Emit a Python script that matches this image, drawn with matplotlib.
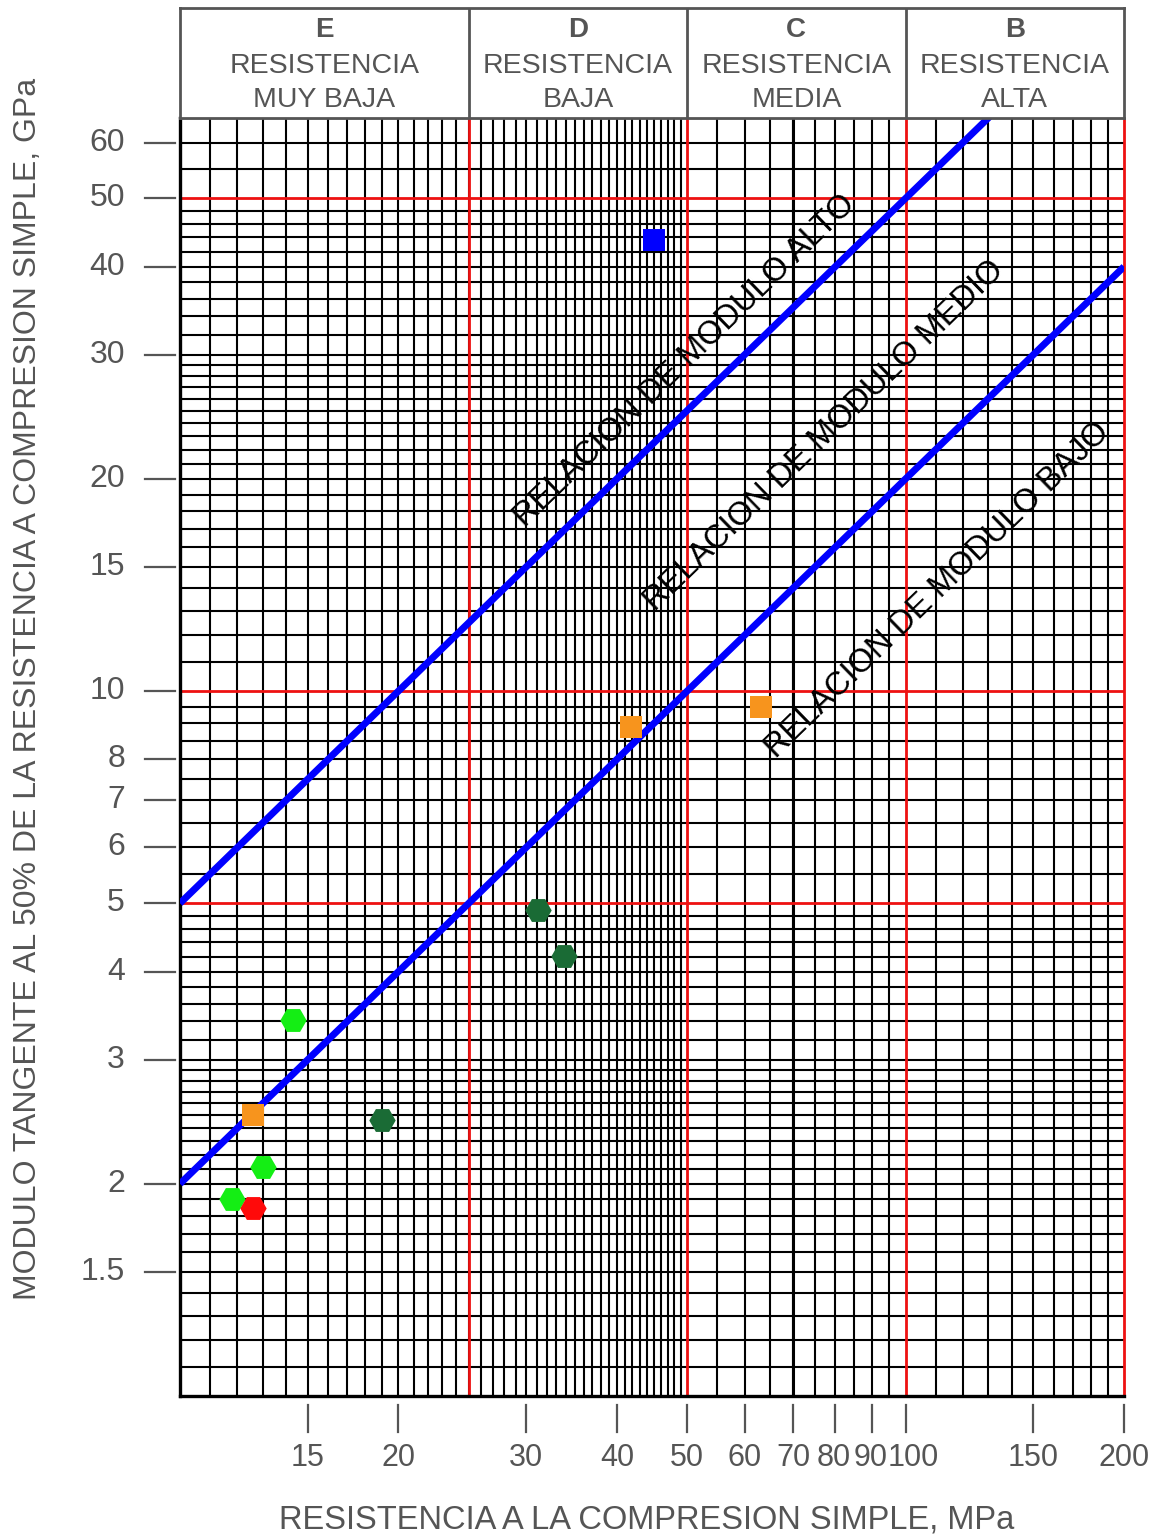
import math
import numpy as np
import matplotlib
matplotlib.use('Agg')
import matplotlib.pyplot as plt
from matplotlib.transforms import blended_transform_factory, offset_copy

plt.rcParams['font.family'] = ['Liberation Sans', 'DejaVu Sans']

# ---------------- data ----------------
blue_sq_x = [45.0]
blue_sq_y = [43.6]
orange_sq_x = [12.6, 41.8, 63.3]
orange_sq_y = [2.5, 8.9, 9.5]
lgreen_x = [11.8, 13.0, 14.3]
lgreen_y = [1.90, 2.11, 3.41]
red_x = [12.6]
red_y = [1.85]
dgreen_x = [19.0, 31.1, 33.8]
dgreen_y = [2.46, 4.89, 4.21]

ratio_lines = [500, 200]          # modulus ratio E / sigma_c
ratio_labels = ['RELACION DE MODULO ALTO', 'RELACION DE MODULO MEDIO',
                'RELACION DE MODULO BAJO']
label_x = [49.6, 77.3, 110.7]
label_y = [29.4, 23.0, 13.9]

categories = ['E', 'D', 'C', 'B']
cat_line1 = ['RESISTENCIA', 'RESISTENCIA', 'RESISTENCIA', 'RESISTENCIA']
cat_line2 = ['MUY BAJA', 'BAJA', 'MEDIA', 'ALTA']
cat_bounds = [10, 25, 50, 100, 200]

xticks = [15, 20, 30, 40, 50, 60, 70, 80, 90, 100, 150, 200]
yticks = [1.5, 2, 3, 4, 5, 6, 7, 8, 10, 15, 20, 30, 40, 50, 60]

xlim = (10, 200)
ylim = (1, 65)

# ---------------- figure ----------------
W, H = 1158, 1538
fig = plt.figure(figsize=(W / 100, H / 100), dpi=100)
L, R, T, B = 180, 1124, 118, 1396
ax = fig.add_axes([L / W, 1 - B / H, (R - L) / W, (B - T) / H])
ax.set_xscale('log')
ax.set_yscale('log')
ax.set_xlim(*xlim)
ax.set_ylim(*ylim)
ax.set_xticks([])
ax.set_yticks([])
ax.minorticks_off()

# grid
xgrid = np.concatenate([np.arange(11, 50, 1), np.arange(55, 100, 5), np.arange(110, 200, 10)])
ygrid = np.concatenate([np.arange(1.1, 2.95, 0.1), np.arange(3.0, 4.95, 0.2),
                        np.arange(5.5, 9.9, 0.5), np.arange(11, 30, 1),
                        np.arange(30, 49, 2), [55, 60, 65]])
gkw = dict(colors='black', lw=1.5, zorder=1)
vl = ax.vlines(xgrid, ylim[0], ylim[1], **gkw)
hl = ax.hlines(ygrid, xlim[0], xlim[1], **gkw)
vl.set_snap(True)
hl.set_snap(True)
ax.vlines([70], ylim[0], ylim[1], colors='black', lw=2.2, zorder=1)
ax.vlines([25, 50, 100, 200], ylim[0], ylim[1], colors='#EE1111', lw=2.0, zorder=2, clip_on=False)
ax.hlines([5, 10, 50], xlim[0], xlim[1], colors='#EE1111', lw=2.0, zorder=2)

for s in ['left', 'bottom']:
    ax.spines[s].set_linewidth(2.4)
    ax.spines[s].set_color('black')
ax.spines['right'].set_visible(False)
ax.spines['top'].set_linewidth(1.6)
ax.spines['top'].set_color('#333333')

# ratio lines
xs = np.array(xlim, dtype=float)
for r in ratio_lines:
    ax.plot(xs, xs * r / 1000.0, color='#0000FF', lw=5.0, solid_capstyle='butt', zorder=3)

# rotated labels
p1 = ax.transData.transform((10, 1))
p2 = ax.transData.transform((100, 10))
ang = math.degrees(math.atan2(p2[1] - p1[1], p2[0] - p1[0]))
for t, lx, ly in zip(ratio_labels, label_x, label_y):
    ax.text(lx, ly, t, rotation=ang, rotation_mode='anchor', ha='center', va='center',
            fontsize=23.5, color='black', zorder=4)

# markers
mk = dict(linestyle='none', mew=0, zorder=5, clip_on=False)
ax.plot(blue_sq_x, blue_sq_y, marker='s', ms=16, color='#0000FF', **mk)
ax.plot(orange_sq_x, orange_sq_y, marker='s', ms=16, color='#F7941D', **mk)
ax.plot(dgreen_x, dgreen_y, marker='H', ms=19, color='#1A6B35', **mk)
ax.plot(lgreen_x, lgreen_y, marker='H', ms=19, color='#14EE14', **mk)
ax.plot(red_x, red_y, marker='H', ms=19, color='#FF0A0A', **mk)

# manual ticks
gray = '#555555'
wpx, hpx = R - L, B - T
tr_y = blended_transform_factory(ax.transAxes, ax.transData)
for v in yticks:
    ax.plot([-35 / wpx, -5 / wpx], [v, v], transform=tr_y, color=gray, lw=1.6, clip_on=False)
    ax.text(-55 / wpx, v, f'{v:g}', transform=tr_y, ha='right', va='center',
            fontsize=23, color=gray)
tr_x = blended_transform_factory(ax.transData, ax.transAxes)
nudge = {80: -2, 90: -2, 100: 8}
for v in xticks:
    ax.plot([v, v], [-9 / hpx, -36 / hpx], transform=tr_x, color=gray, lw=1.6, clip_on=False)
    tt = offset_copy(tr_x, fig=fig, x=nudge.get(v, 0), y=0, units='dots')
    ax.text(v, -62 / hpx, f'{v:g}', transform=tt, ha='center', va='center',
            fontsize=22, color=gray)

fig.text(0.5 * (L + R) / W - 0.005, 1 - 1520 / H, 'RESISTENCIA A LA COMPRESION SIMPLE, MPa',
         ha='center', va='center', fontsize=23.5, color=gray)
fig.text(28 / W, 1 - 689 / H,
         'MODULO TANGENTE AL 50% DE LA RESISTENCIA A COMPRESION SIMPLE, GPa',
         ha='center', va='center', rotation=90, fontsize=23, color=gray)

# header
hax = fig.add_axes([L / W, 1 - T / H, (R - L) / W, (T - 8) / H])
hax.set_xscale('log')
hax.set_xlim(*xlim)
hax.set_ylim(0, 1)
hax.set_xticks([])
hax.set_yticks([])
hax.minorticks_off()
for s in hax.spines.values():
    s.set_color(gray)
    s.set_linewidth(2.0)
hax.vlines(cat_bounds[1:-1], 0, 1, colors=gray, lw=2.0)
for i, c in enumerate(categories):
    cx = math.sqrt(cat_bounds[i] * cat_bounds[i + 1])
    hax.text(cx, 0.80, c, ha='center', va='center', fontsize=20, fontweight='bold', color=gray)
    hax.text(cx, 0.47, cat_line1[i], ha='center', va='center', fontsize=20.5, color=gray)
    hax.text(cx, 0.16, cat_line2[i], ha='center', va='center', fontsize=20.5, color=gray)

fig.savefig('out.png', dpi=100)
